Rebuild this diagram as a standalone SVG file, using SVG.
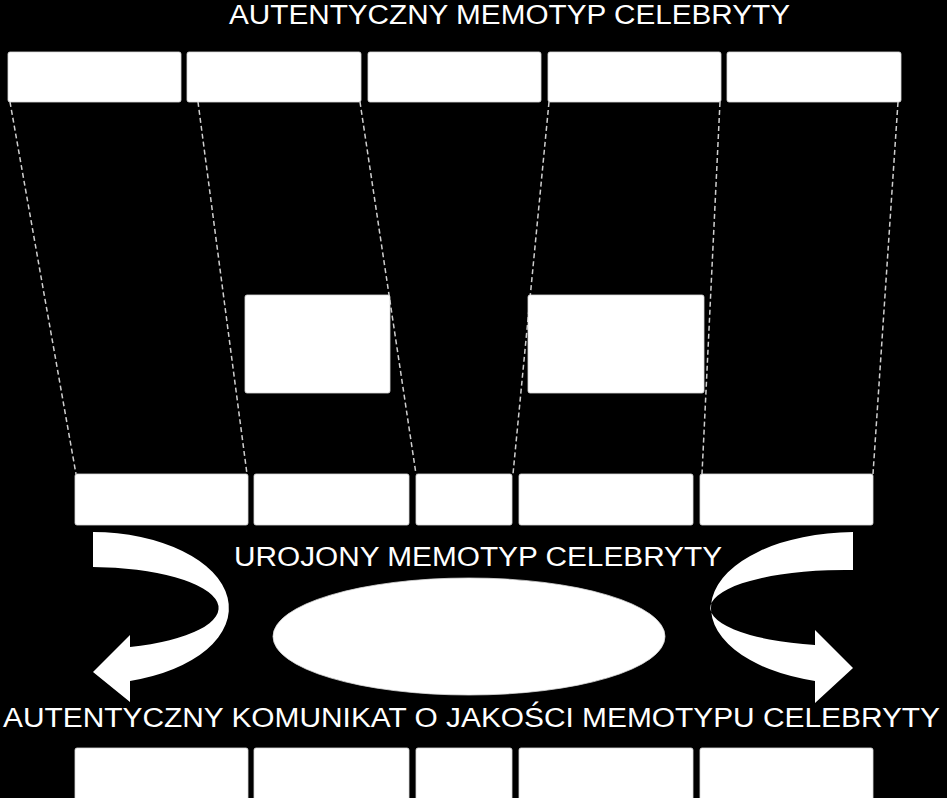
<svg xmlns="http://www.w3.org/2000/svg" width="947" height="798" viewBox="0 0 947 798">
<style>
.box{fill:#ffffff;stroke:#d9d9d9;stroke-width:0.8}
.lbl{font-family:"Liberation Sans",Arial,sans-serif;font-size:27px;fill:#ffffff}
.dash{stroke:#cfcfcf;stroke-width:1.5;stroke-dasharray:5 3;fill:none}
.arr{fill:#ffffff}
</style>
<rect x="0" y="0" width="947" height="798" fill="#000000"/>
<g id="connectors">
<line class="dash" x1="10" y1="102" x2="76" y2="474"/>
<line class="dash" x1="198" y1="102" x2="247" y2="474"/>
<line class="dash" x1="360" y1="102" x2="416" y2="474"/>
<line class="dash" x1="549" y1="102" x2="513" y2="474"/>
<line class="dash" x1="720" y1="102" x2="702" y2="474"/>
<line class="dash" x1="898" y1="102" x2="873" y2="474"/>
</g>
<g id="title-top"><text class="lbl" x="229" y="23.5" font-size="26.5" textLength="561" lengthAdjust="spacingAndGlyphs">AUTENTYCZNY MEMOTYP CELEBRYTY</text></g>
<g id="top-row">
<rect class="box" x="8" y="52" width="173" height="50" rx="2"/>
<rect class="box" x="187" y="52" width="174" height="50" rx="2"/>
<rect class="box" x="368" y="52" width="173" height="50" rx="2"/>
<rect class="box" x="548" y="52" width="173" height="50" rx="2"/>
<rect class="box" x="727" y="52" width="174" height="50" rx="2"/>
</g>
<g id="mid-box-a"><rect class="box" x="245" y="295" width="145" height="98" rx="2"/></g>
<g id="mid-box-b"><rect class="box" x="528" y="295" width="176" height="98" rx="2"/></g>
<g id="row3">
<rect class="box" x="75" y="474" width="173" height="51" rx="2"/>
<rect class="box" x="254" y="474" width="155" height="51" rx="2"/>
<rect class="box" x="416" y="474" width="96" height="51" rx="2"/>
<rect class="box" x="519" y="474" width="174" height="51" rx="2"/>
<rect class="box" x="700" y="474" width="173" height="51" rx="2"/>
</g>
<g id="title-mid"><text class="lbl" x="234" y="566" textLength="488" lengthAdjust="spacingAndGlyphs">UROJONY MEMOTYP CELEBRYTY</text></g>
<g id="arrow-left"><path class="arr" d="M93,532 A137,76 0 0 1 130,681 L130,702 L93,672 L130,635 L130,647 A128,41 0 0 0 93,567 Z"/></g>
<g id="arrow-right"><path class="arr" d="M853,532 A144,76 0 0 0 815,681 L815,703 L853,668 L815,630 L815,645 A134,38 0 0 1 853,570 Z"/></g>
<g id="ellipse"><ellipse class="box" cx="469" cy="636.5" rx="196" ry="58.5"/></g>
<g id="title-bottom"><text class="lbl" x="3" y="727" font-size="28" textLength="937" lengthAdjust="spacingAndGlyphs">AUTENTYCZNY KOMUNIKAT O JAKOŚCI MEMOTYPU CELEBRYTY</text></g>
<g id="row4">
<rect class="box" x="75" y="748" width="173" height="60" rx="2"/>
<rect class="box" x="254" y="748" width="155" height="60" rx="2"/>
<rect class="box" x="416" y="748" width="96" height="60" rx="2"/>
<rect class="box" x="519" y="748" width="174" height="60" rx="2"/>
<rect class="box" x="700" y="748" width="173" height="60" rx="2"/>
</g>
</svg>
